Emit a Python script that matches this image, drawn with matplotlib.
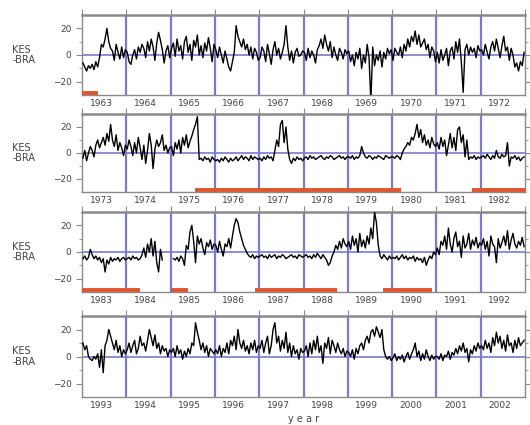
import numpy as np
import matplotlib
matplotlib.use('Agg')
import matplotlib.pyplot as plt

nan = np.nan

# KES - BRA difference, semi-monthly values (24 per year)
kes_bra_1963 = [
    -6, -9, -12, -8, -10, -7, -11, -5, -9, -2, 8, 6, 12, 20, 10, 5, 3, -4, 8, 2, -3, 6, -2, 4,      # 1963
    2, -5, -7, 0, 4, -3, 6, 2, 8, 5, -2, 10, 3, 12, 6, -4, 9, 17, 11, 4, -6, 3, 7, -2,             # 1964
    5, 9, -1, 12, 3, 7, -3, 10, 14, 2, 8, -4, 11, 6, 15, 0, 7, -2, 9, 3, 13, 5, -5, 8,             # 1965
    4, -2, 6, 0, -6, 3, -3, -9, -12, -5, 2, 22, 14, 10, 6, 12, 4, 8, 0, 6, -3, 5, 2, -4,           # 1966
    -2, 6, 3, -5, 8, 1, -7, 4, 10, 0, 5, -3, 2, 8, 22, 6, -4, 3, -6, 2, 5, -1, 0, 3,               # 1967
    2, -4, 5, -2, 3, 0, -6, 4, 7, 12, 5, 15, 8, 3, 10, -2, 6, 0, -4, 5, 2, -3, 4, 1,               # 1968
    3, -5, 0, -8, 2, -3, 5, -10, 0, -6, 8, -2, -35, 6, -8, 0, -4, 3, -9, 2, -3, 5, 1, 4,           # 1969
    -4, 5, 2, 0, 6, -2, 8, 3, 12, 6, 14, 10, 18, 8, 15, 6, 9, 12, 4, 8, -2, 6, 3, -5,              # 1970
    2, -6, 4, -4, 0, 5, -8, 3, 6, -3, 10, 2, 12, -5, -28, 4, 8, 0, 6, 2, 5, -2, 7, 3,              # 1971
    4, 0, 8, 2, -3, 6, 10, 3, 12, 5, -2, 7, 14, 3, 6, -4, 5, 0, -9, -6, -12, -5, -8, 2,            # 1972
]
kes_bra_1973 = [
    -4, 2, -6, 0, 5, 2, -3, 6, 10, 4, 8, 12, 6, 15, 9, 22, 10, 5, 14, 2, 8, 4, -2, 6,              # 1973
    3, 10, 5, -2, 8, 0, 12, 4, -5, 6, -8, 2, 15, 6, -12, 3, 10, 5, 8, 14, 2, 6, 0, 4,              # 1974
    5, -2, 8, 3, 10, 0, 12, 6, 14, 4, 9, 13, 18, 22, 28, -5, -4, -6, -3, -5, -4, -7, -3, -5,       # 1975
    -6, -5, -7, -4, -6, -3, -5, -7, -4, -6, -5, -3, -6, -4, -2, -5, -3, -4, -6, -2, -5, -3, -4, -5,  # 1976
    -4, -6, -3, -5, -2, -4, -3, -6, 2, 10, 5, 22, 25, 8, 20, 3, -5, -8, -4, -6, -3, -5, -4, -6,    # 1977
    -4, -3, -5, -2, -4, -3, -5, -4, -3, -2, -4, -5, -3, -4, -2, -3, -5, -4, -3, -2, -4, -3, -5, -3,  # 1978
    -3, -4, -2, -5, -3, -4, -2, 5, 0, -3, -4, -2, -3, -5, -3, -4, -2, -3, -4, -5, -2, -3, -4, -3,  # 1979
    -3, -4, -2, -3, -5, 0, 3, 5, 8, 6, 12, 10, 15, 22, 12, 18, 8, 14, 6, 10, 4, 12, 7, 5,          # 1980
    8, 3, 12, 5, 10, -2, 6, 15, 4, 12, 2, 18, 20, 8, 14, -3, 10, -5, -3, -4, -2, -5, -3, -4,       # 1981
    -3, -2, -4, -1, -3, -5, -2, -4, 2, -3, -4, -1, -3, -2, 8, -10, -3, -4, -2, -5, -3, -6, -4, -3, # 1982
]
kes_bra_1983 = [
    -5, -3, -6, -4, 2, -2, -5, -3, -6, -4, -8, -5, -15, -6, -9, -4, -7, -5, -6, -4, -7, -5, -4, -6,  # 1983
    -5, -4, -6, -3, -5, -4, -6, -5, -2, 3, -4, 6, 0, 10, -3, 8, -8, -15, 2, -6, nan, nan, nan, nan,  # 1984
    nan, -5, -6, -4, -7, -3, -5, -10, 5, 2, 15, 20, 8, -8, 12, 6, 10, 3, -2, 7, 4, 9, 2, 6,        # 1985
    5, 0, 8, 2, -3, 6, 4, 10, 3, 12, 20, 25, 22, 15, 10, 5, 2, -1, -3, -4, -2, -5, -3, -4,         # 1986
    -3, -2, -4, -3, -5, -2, -4, -3, -2, -5, -3, -4, -2, -3, -5, -4, -3, -2, -4, -3, -5, -2, -3, -4,  # 1987
    -3, -2, -4, -3, -5, -2, -4, -1, -3, -5, -2, -4, -6, -10, -8, -3, 0, 5, 2, 8, 3, 10, 6, 4,      # 1988
    8, 2, 12, 5, 10, 0, 14, 4, 9, 3, 12, 6, 18, 10, 30, 22, 5, -3, -5, -2, -4, -6, -3, -5,         # 1989
    -4, -5, -3, -6, -4, -2, -5, -3, -6, -4, -5, -3, -7, -4, -6, -5, -8, -4, -10, -6, -3, -5, 0, -2,  # 1990
    3, -2, 8, 5, 12, 2, 18, 6, 0, 10, 15, 4, 8, -4, 12, 3, 6, 14, 2, 9, 5, 11, 3, 7,               # 1991
    5, 10, 2, 8, -3, 12, 6, 4, -8, 10, 3, 7, 12, 5, 16, 2, 9, 14, 6, 3, 8, 5, 11, 4,               # 1992
]
kes_bra_1993 = [
    10, 5, 8, 0, -2, -3, 0, -2, 2, -8, 5, -12, 8, 12, 20, 15, 10, 5, 12, 3, 8, 0, 5, 2,            # 1993
    5, 10, 3, 8, 12, 2, 6, 15, 8, 10, 4, 12, 20, 14, 8, 16, 6, 10, 2, 8, 4, 6, 0, 5,               # 1994
    3, 6, 0, 8, 2, 5, -2, 4, 0, 6, 2, 10, 8, 25, 18, 12, 5, 10, 3, 8, 0, 6, 4, 2,                  # 1995
    5, 2, 8, 0, 6, 3, 10, 2, 12, 8, 15, 5, 20, 10, 6, 12, 4, 8, 2, 10, 5, 12, 3, 8,                # 1996
    6, 12, 3, 10, 15, 2, 8, 20, 25, 10, 15, 4, 12, 6, 18, 3, 10, 0, 8, 2, 5, -2, 6, 3,             # 1997
    4, 8, 0, 10, 2, 12, 5, 15, 3, 8, -5, 10, 6, 14, 2, 12, 8, 3, 10, 5, 2, 6, 0, 4,                # 1998
    3, 0, 5, -2, 6, 2, 8, 10, 5, 12, 15, 10, 18, 20, 15, 22, 18, 14, 20, 5, 0, -2, 0, -3,          # 1999
    -1, 2, -3, 0, -2, 1, -4, 0, 3, -2, 2, 5, 10, 0, 4, -3, 2, -2, 5, 0, -3, 1, -2, 0,              # 2000
    0, -2, 2, -3, 1, 0, 4, -2, 3, 1, 6, 2, 8, 4, 10, 3, 6, -4, 5, 2, 8, 4, 10, 6,                  # 2001
    8, 5, 12, 6, 10, 3, 14, 8, 18, 10, 15, 6, 12, 4, 16, 8, 10, 3, 12, 6, 14, 8, 10, 12,           # 2002
]

row_starts = [1963, 1973, 1983, 1993]
row_series = [kes_bra_1963, kes_bra_1973, kes_bra_1983, kes_bra_1993]

# periods marked with the red bar
red_periods = [
    (1963.0, 1963.35),
    (1975.55, 1980.2), (1981.8, 1983.0),
    (1983.0, 1984.3), (1985.0, 1985.4), (1986.9, 1988.75), (1989.8, 1990.9),
]

fig = plt.figure(figsize=(5.3, 4.25), dpi=100)
W, H = 530.0, 425.0
rows_px = [(15, 95), (114, 192), (212, 292), (316, 397)]
left_px, right_px = 82, 525

grid_col = '#7a7ad0'
frame_col = '#8a8a8a'
text_col = '#444444'

for (top, bot), start, vals in zip(rows_px, row_starts, row_series):
    ax = fig.add_axes([left_px / W, 1 - bot / H, (right_px - left_px) / W, (bot - top) / H])
    t = start + (np.arange(len(vals)) + 0.5) / 24.0
    ax.set_xlim(start, start + 10)
    ax.set_ylim(-30, 30)

    for yr in range(start + 1, start + 10):
        ax.axvline(yr, color=grid_col, lw=1.6, zorder=1)
    ax.axhline(0, color=grid_col, lw=1.2, zorder=1)

    ax.plot(t, vals, color='black', lw=1.0, zorder=3)

    for a, b in red_periods:
        if b > start and a < start + 10:
            ax.plot([max(a, start), min(b, start + 10)], [-28.5, -28.5],
                    color='#e0552e', lw=2.8, solid_capstyle='butt', zorder=4)

    for sp in ax.spines.values():
        sp.set_color(frame_col)
        sp.set_linewidth(1.0)
    ax.spines['top'].set_linewidth(1.8)

    years = np.arange(start, start + 11)
    ax.set_xticks(years)
    ax.set_xticks(years[:-1] + 0.43, minor=True)
    ax.set_xticklabels([str(y) for y in years[:-1]], minor=True)
    ax.tick_params(axis='x', which='major', bottom=False, top=True, direction='out',
                   length=4, color=frame_col, labelbottom=False)
    ax.tick_params(axis='x', which='minor', bottom=False, top=False, length=0,
                   labelsize=6.5, pad=3, labelcolor=text_col)

    ax.set_yticks([-20, 0, 20])
    ax.set_yticks([-10, 10], minor=True)
    ax.tick_params(axis='y', which='both', left=True, right=True, direction='out',
                   color=frame_col, labelsize=6.5, labelcolor=text_col)
    ax.tick_params(axis='y', which='major', length=4)
    ax.tick_params(axis='y', which='minor', length=2)

    ax.text(-0.157, 0.5, 'KES\n-BRA', transform=ax.transAxes, fontsize=7,
            ha='left', va='center', color=text_col, linespacing=1.1)

fig.text(304 / W, 1 - 419 / H, 'y e a r', fontsize=7, ha='center', va='center', color=text_col)

fig.savefig('out.png', dpi=100)
